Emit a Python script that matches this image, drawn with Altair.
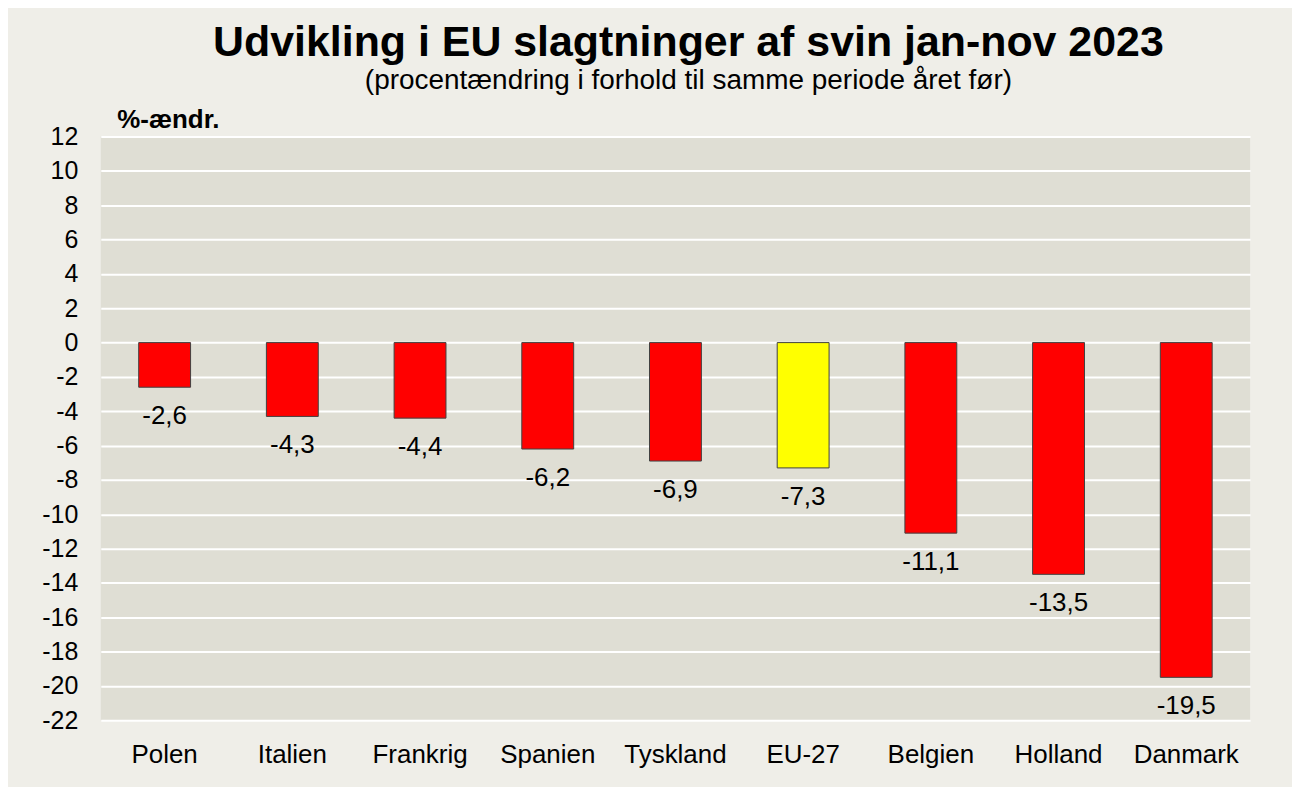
import altair as alt
import pandas as pd

countries = ["Polen", "Italien", "Frankrig", "Spanien", "Tyskland", "EU-27", "Belgien", "Holland", "Danmark"]
values = [-2.6, -4.3, -4.4, -6.2, -6.9, -7.3, -11.1, -13.5, -19.5]
colors = ["#ff0000", "#ff0000", "#ff0000", "#ff0000", "#ff0000", "#ffff00", "#ff0000", "#ff0000", "#ff0000"]
y_ticks = list(range(-22, 13, 2))

df = pd.DataFrame({"land": countries, "v": values, "farve": colors})

FONT = "Liberation Sans"

y_enc = alt.Y("v:Q", scale=alt.Scale(domain=[-22, 12], nice=False, zero=False),
              axis=alt.Axis(values=y_ticks, tickCount=18, title="%-ændr.", titleAngle=0, titleAlign="left",
                            titleBaseline="alphabetic", titleX=16, titleY=-9, titleFontSize=26,
                            titleFont=FONT, titleFontWeight="bold", titleColor="#000000",
                            labelExpr="'' + datum.value", labelFontSize=25, labelFont=FONT,
                            labelColor="#000000", labelPadding=23, labelOverlap=False,
                            labelBound=False, ticks=False, domain=False,
                            gridColor="#ffffff", gridWidth=2, gridOpacity=1))

base = alt.Chart(df).encode(
    x=alt.X("land:N", sort=countries, scale=alt.Scale(paddingInner=0, paddingOuter=0),
            axis=alt.Axis(title=None, labelAngle=0, ticks=False, domain=False, grid=False,
                          labelFontSize=26, labelFont=FONT, labelColor="#000000",
                          labelBaseline="alphabetic", labelPadding=42)),
    y=y_enc,
)

bars = base.mark_bar(size=52, stroke="#404040", strokeWidth=1).encode(
    color=alt.Color("farve:N", scale=None),
)

labels = base.mark_text(dy=37, baseline="alphabetic", align="center", fontSize=26, font=FONT,
                        color="#000000").transform_calculate(
    lab="replace(replace(format(datum.v, '.1f'), '.', ','), '−', '-')"
).encode(text="lab:N")

chart = alt.layer(bars, labels).properties(
    width=1152,
    height=585,
    autosize=alt.AutoSizeParams(type="none"),
    padding={"left": 93, "top": 128, "right": 42, "bottom": 66},
    background="#efeee8",
    title=alt.TitleParams(
        text="Udvikling i EU slagtninger af svin jan-nov 2023",
        subtitle="(procentændring i forhold til samme periode året før)",
        fontSize=43, font=FONT, fontWeight="bold", color="#000000",
        subtitleFontSize=28, subtitleFont=FONT, subtitleColor="#000000",
        subtitlePadding=2, anchor="middle", dx=13, offset=12,
    ),
).configure_view(fill="#dfded4", strokeWidth=0)

chart.save("out.html", embed_options={"renderer": "svg", "actions": False})
